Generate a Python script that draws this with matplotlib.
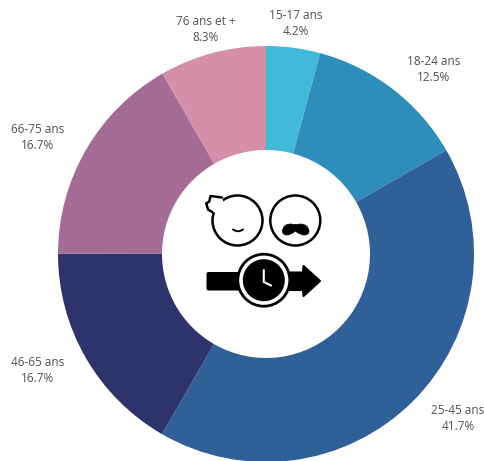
import matplotlib
matplotlib.use("Agg")
import matplotlib.pyplot as plt
from matplotlib.patches import Circle, FancyBboxPatch, Polygon, PathPatch
from matplotlib.path import Path

categories = ["15-17 ans", "18-24 ans", "25-45 ans", "46-65 ans", "66-75 ans", "76 ans et +"]
values = [4.2, 12.5, 41.7, 16.7, 16.7, 8.3]
colors = ["#41B9D9", "#2D8DBB", "#2F6098", "#2F336B", "#A46C94", "#D68FA9"]
label_xy = [(296, 23.5), (434, 69.5), (458, 418.5), (38, 370.5), (38, 137.5), (206, 29)]

W, H = 485, 461
fig = plt.figure(figsize=(W / 100, H / 100), dpi=100)
ax = fig.add_axes([0, 0, 1, 1])

# y axis is inverted, so a counterclockwise pie in data space runs clockwise on screen
ax.pie(values, colors=colors, startangle=-90, counterclock=True, center=(266, 254),
       radius=208, wedgeprops=dict(width=104, linewidth=0), frame=True)
ax.set_xlim(0, W)
ax.set_ylim(H, 0)
ax.set_aspect("equal")
ax.axis("off")

for cat, v, (x, y) in zip(categories, values, label_xy):
    ax.text(x, y, f"{cat}\n{v}%", ha="center", va="center", fontsize=8.5,
            family="Open Sans", color="#505050", linespacing=1.3)

# central icon: two faces and a watch with an arrow
k = "black"
lw = 1.8
ax.add_patch(Circle((237.5, 220.5), 25, fc="white", ec=k, lw=lw))
ax.add_patch(Circle((295.3, 220.5), 25, fc="white", ec=k, lw=lw))
tuft = [(222, 197.5), (210.5, 196), (209.3, 201.5), (206.3, 203.3), (208, 209.5), (212.3, 212)]
ax.add_patch(Polygon(tuft + [(228, 215)], closed=True, fc="white", ec="none"))
ax.plot(*zip(*tuft), color=k, lw=lw, solid_capstyle="round", solid_joinstyle="round")
ax.add_patch(PathPatch(Path([(233, 229.5), (238, 233), (243, 229.5)], [1, 3, 3]), fc="none", ec=k, lw=1.4,
                       capstyle="round"))
moustache = [(282.5, 231), (283, 224), (291, 224), (295.3, 225), (300, 224), (308, 224), (309, 231),
             (309, 235), (304, 235), (300, 235), (295.3, 231), (291, 235), (287, 235), (282.5, 235), (282.5, 231)]
ax.add_patch(PathPatch(Path(moustache, [1] + [3] * 14), fc=k, ec=k, lw=0.5))
ax.add_patch(FancyBboxPatch((206.5, 272), 58, 18.5, boxstyle="round,pad=0,rounding_size=2", fc=k, ec="none"))
ax.add_patch(Polygon([(285, 272.5), (303, 272.5), (303.5, 266), (320, 281), (303.5, 296), (303, 290), (285, 290)],
                     closed=True, fc=k, ec=k, lw=1.5, joinstyle="round"))
ax.add_patch(Circle((263.8, 280.2), 26, fc="white", ec=k, lw=2))
ax.add_patch(Circle((263.8, 280.2), 21, fc=k, ec="none"))
ax.plot([263.8, 263.8, 271], [270, 282, 285.5], color="white", lw=1.5, solid_capstyle="round", solid_joinstyle="miter")

fig.savefig("out.png", dpi=100)
